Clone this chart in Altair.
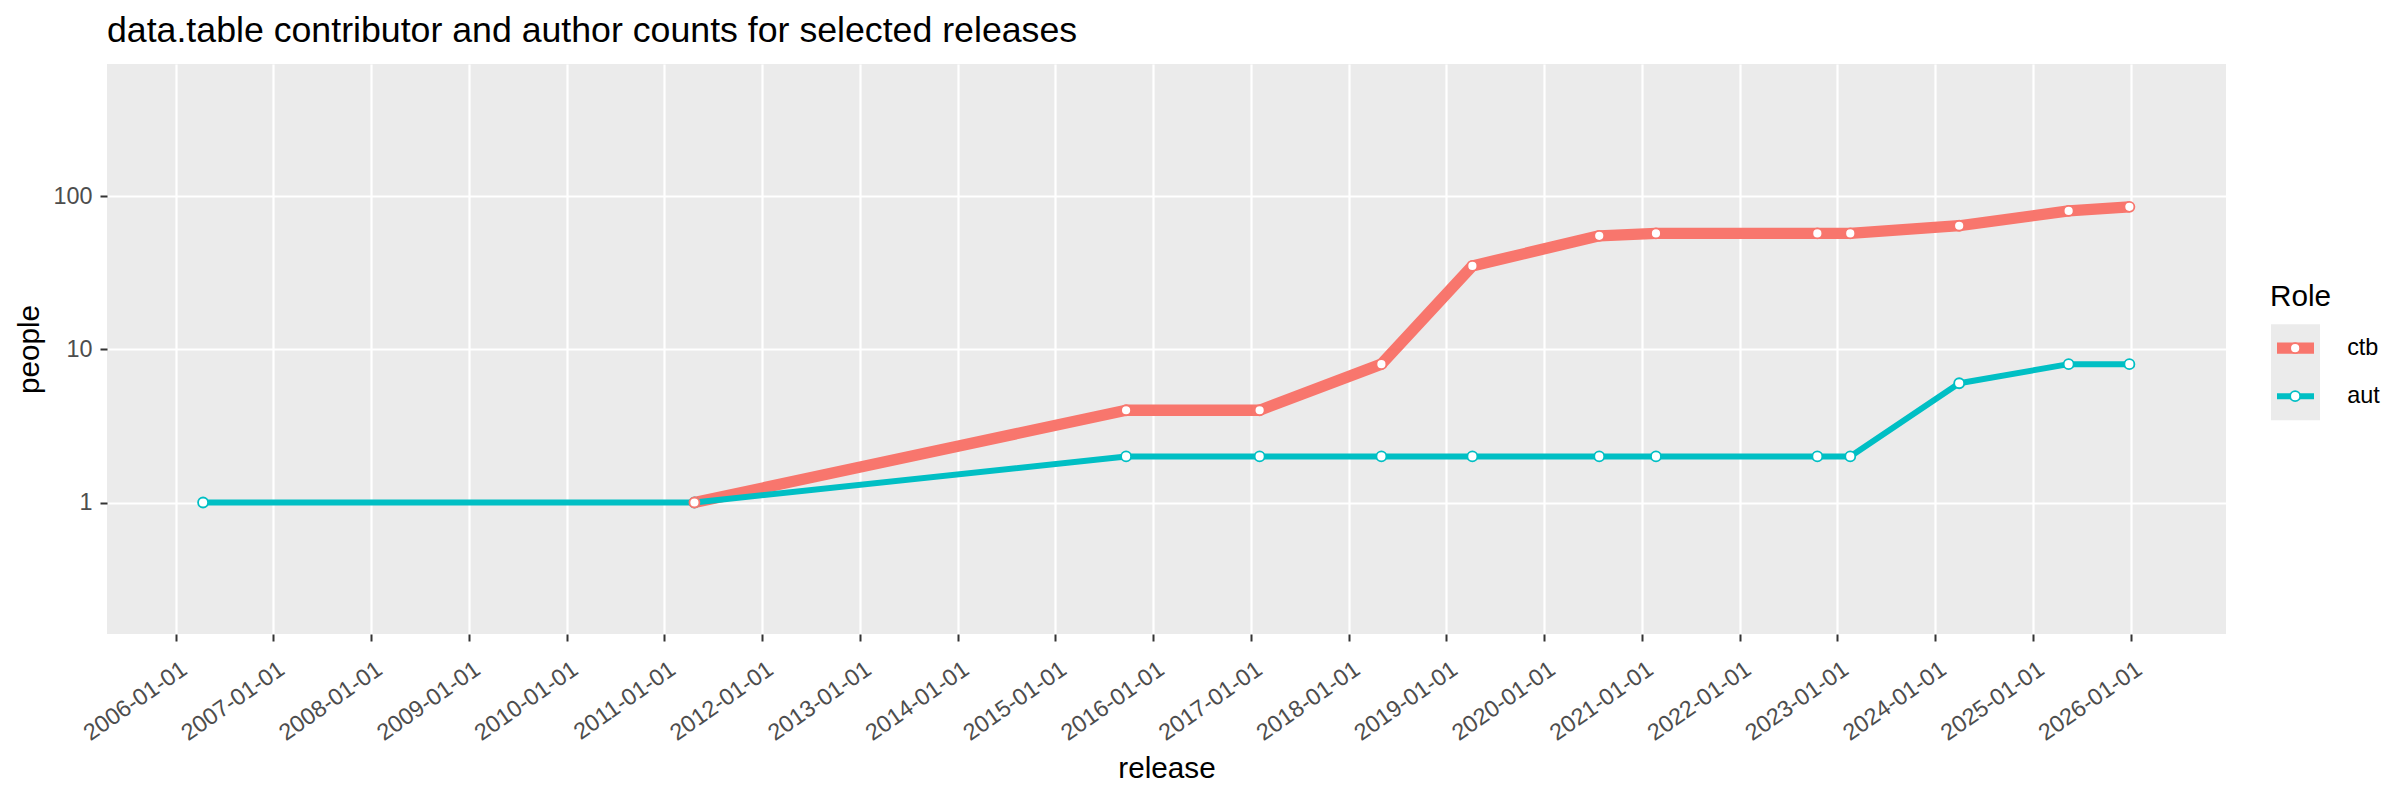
import altair as alt
import pandas as pd

# ---- data ----
releases = ["2006-04-13", "2011-04-23", "2015-09-22", "2017-02-02", "2018-05-03",
            "2019-04-08", "2020-07-25", "2021-02-22", "2022-10-18", "2023-02-18",
            "2024-03-31", "2025-05-14", "2025-12-27"]
aut_counts = [1, 1, 2, 2, 2, 2, 2, 2, 2, 2, 6, 8, 8]
ctb_releases = releases[1:]
ctb_counts = [1, 4, 4, 8, 35, 55, 57, 57, 57, 64, 80, 85]

roles = ["ctb", "aut"]
role_colors = ["#F8766D", "#00BFC4"]
role_widths = [11.3, 6]
year_ticks = list(range(2006, 2027))
people_ticks = [1, 10, 100]

rows = [{"release": r, "people": p, "Role": "aut"} for r, p in zip(releases, aut_counts)]
rows += [{"release": r, "people": p, "Role": "ctb"} for r, p in zip(ctb_releases, ctb_counts)]
df = pd.DataFrame(rows)

FONT = "Liberation Sans"

x_enc = alt.X(
    "release:T",
    scale=alt.Scale(type="utc",
                    domain=[alt.DateTime(year=2005, month=4, date=19, utc=True),
                            alt.DateTime(year=2026, month=12, date=23, utc=True)]),
    axis=alt.Axis(
        values=[alt.DateTime(year=y, month=1, date=1, utc=True) for y in year_ticks],
        labelExpr="utcFormat(datum.value, '%Y-%m-%d')",
        labelAngle=-35, labelAlign="right", labelBaseline="top",
        labelPadding=16.5, labelOffset=2, labelFlush=False, labelOverlap=False,
        titlePadding=10,
    ),
    title="release",
)
y_enc = alt.Y(
    "people:Q",
    scale=alt.Scale(type="log", domain=[0.1387, 727], nice=False),
    axis=alt.Axis(values=people_ticks, labelExpr="format(datum.value, 'd')",
                  labelPadding=8, titlePadding=8),
    title="people",
)

legend_lines = alt.Legend(
    orient="none", legendX=2164, legendY=260.2, title=None,
    labelExpr="''", labelOffset=0, fillColor="#EBEBEB", padding=0,
    clipHeight=48, rowPadding=0, symbolType="stroke", symbolSize=1369,
)
legend_points = alt.Legend(
    orient="none", legendX=2163, legendY=218.7, title="Role",
    titleFontSize=29.7, titleFont=FONT, titleColor="black", titleFontWeight="normal",
    titlePadding=11.8, labelFontSize=23.4, labelFont=FONT, labelColor="black",
    labelOffset=40.3, symbolOffset=13.45, clipHeight=48, rowPadding=0, padding=0,
    symbolType="circle", symbolSize=100, symbolStrokeWidth=1.8, symbolFillColor="white",
)

color_enc = alt.Color("Role:N", scale=alt.Scale(domain=roles, range=role_colors),
                      legend=legend_lines)
width_enc = alt.StrokeWidth("Role:N", scale=alt.Scale(domain=roles, range=role_widths),
                            legend=legend_lines)

base = alt.Chart(df)

line_ctb = base.transform_filter(alt.datum.Role == "ctb").mark_line(
    strokeJoin="round", strokeCap="butt").encode(
    x=x_enc, y=y_enc, color=color_enc, strokeWidth=width_enc)
line_aut = base.transform_filter(alt.datum.Role == "aut").mark_line(
    strokeJoin="round", strokeCap="butt").encode(
    x=x_enc, y=y_enc, color=color_enc, strokeWidth=width_enc)

points = base.mark_point(shape="circle", filled=False, fill="white", fillOpacity=1,
                         size=100, strokeWidth=1.8, opacity=1).encode(
    x=x_enc, y=y_enc,
    stroke=alt.Stroke("Role:N", sort=roles, scale=alt.Scale(range=role_colors),
                      legend=legend_points),
)

chart = alt.layer(line_ctb, line_aut, points).properties(
    width=2119, height=570,
    autosize=alt.AutoSizeParams(type="none"),
    padding={"left": 99, "top": 56, "right": 166, "bottom": 158},
    title=alt.TitleParams(
        text="data.table contributor and author counts for selected releases",
        anchor="start", frame="group", fontSize=35.7, font=FONT,
        fontWeight="normal", color="black", offset=14.6),
).configure_view(
    fill="#EBEBEB", stroke=None
).configure_axis(
    labelFont=FONT, titleFont=FONT, labelFontSize=23.4, titleFontSize=29.7,
    labelColor="#4D4D4D", titleColor="black", titleFontWeight="normal",
    tickColor="#333333", tickSize=7, tickWidth=2, domain=False,
    grid=True, gridColor="white", gridWidth=2.2,
)

chart.save("out.html", embed_options={"renderer": "svg", "actions": False})
